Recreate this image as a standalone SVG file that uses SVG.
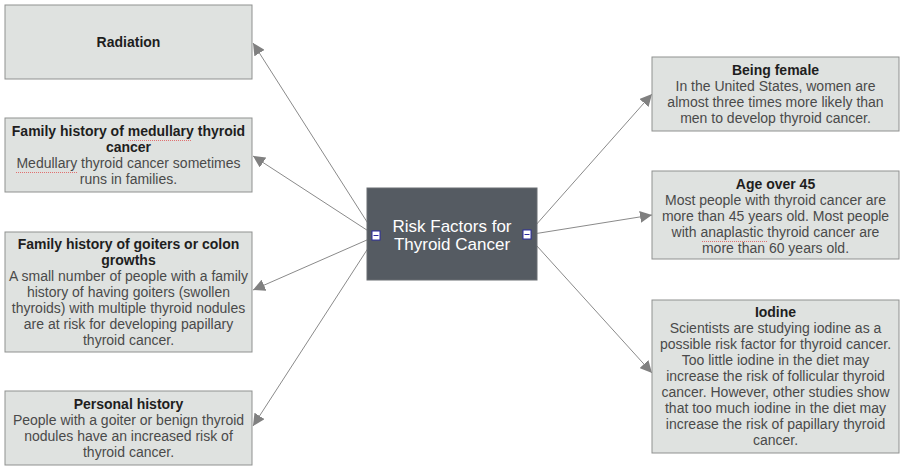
<svg xmlns="http://www.w3.org/2000/svg" width="904" height="470" viewBox="0 0 904 470">
<defs>
<marker id="ah" viewBox="0 0 10 10" refX="10" refY="5" markerWidth="12" markerHeight="12" markerUnits="userSpaceOnUse" orient="auto">
<path d="M0,0 L10,5 L0,10 Z" fill="#808080"/>
</marker>
</defs>
<style>
.box{fill:#dfe2e0;stroke:#8f9190;stroke-width:1}
.ctr{fill:#555b62;stroke:#6a6e73;stroke-width:1}
text{font-family:"Liberation Sans",Arial,sans-serif;font-size:14px;text-anchor:middle}
.t{font-weight:bold;fill:#1e1e1e}
.b{fill:#4a4a4a}
.c{fill:#ffffff;font-size:17px}
.con{stroke:#8a8a8a;stroke-width:1;fill:none;marker-end:url(#ah)}
.port{fill:#ffffff;stroke:#2a2aa0;stroke-width:1}
.sp{stroke:#e07070;stroke-width:1;stroke-dasharray:1,1;fill:none}
</style>
<g id="connectors">
<line class="con" x1="376" y1="236" x2="253" y2="43"/>
<line class="con" x1="376" y1="236" x2="253" y2="156"/>
<line class="con" x1="376" y1="236" x2="253" y2="290"/>
<line class="con" x1="376" y1="236" x2="253" y2="426"/>
<line class="con" x1="527" y1="235" x2="652" y2="94"/>
<line class="con" x1="527" y1="235" x2="652" y2="215"/>
<line class="con" x1="527" y1="235" x2="652" y2="373"/>
</g>
<g id="center">
<rect class="ctr" x="367" y="188" width="170" height="92"/>
<text class="c" x="452" y="232">Risk Factors for</text>
<text class="c" x="452" y="250">Thyroid Cancer</text>
<rect class="port" x="372" y="231" width="8" height="9"/>
<line x1="373.5" y1="235.5" x2="378.5" y2="235.5" stroke="#2a2aa0"/>
<rect class="port" x="523" y="230" width="8" height="9"/>
<line x1="524.5" y1="234.5" x2="529.5" y2="234.5" stroke="#2a2aa0"/>
</g>
<g id="radiation">
<rect class="box" x="5" y="5" width="247" height="74"/>
<text class="t" x="128.5" y="47">Radiation</text>
</g>
<g id="medullary">
<rect class="box" x="5" y="118" width="247" height="74"/>
<text class="t" x="128.5" y="136">Family history of medullary thyroid</text>
<text class="t" x="128.5" y="152">cancer</text>
<text class="b" x="128.5" y="168">Medullary thyroid cancer sometimes</text>
<text class="b" x="128.5" y="184">runs in families.</text>
<path class="sp" d="M128,140.5 L191,140.5"/>
<path class="sp" d="M16,172.5 L78,172.5"/>
</g>
<g id="goiters">
<rect class="box" x="5" y="232" width="247" height="120"/>
<text class="t" x="128.5" y="249">Family history of goiters or colon</text>
<text class="t" x="128.5" y="265">growths</text>
<text class="b" x="128.5" y="281">A small number of people with a family</text>
<text class="b" x="128.5" y="297">history of having goiters (swollen</text>
<text class="b" x="128.5" y="313">thyroids) with multiple thyroid nodules</text>
<text class="b" x="128.5" y="329">are at risk for developing papillary</text>
<text class="b" x="128.5" y="345">thyroid cancer.</text>
</g>
<g id="personal">
<rect class="box" x="5" y="391" width="247" height="74"/>
<text class="t" x="128.5" y="409">Personal history</text>
<text class="b" x="128.5" y="425">People with a goiter or benign thyroid</text>
<text class="b" x="128.5" y="441">nodules have an increased risk of</text>
<text class="b" x="128.5" y="457">thyroid cancer.</text>
</g>
<g id="female">
<rect class="box" x="652" y="57" width="247" height="74"/>
<text class="t" x="775.5" y="75">Being female</text>
<text class="b" x="775.5" y="91">In the United States, women are</text>
<text class="b" x="775.5" y="107">almost three times more likely than</text>
<text class="b" x="775.5" y="123">men to develop thyroid cancer.</text>
</g>
<g id="age">
<rect class="box" x="652" y="171" width="247" height="88"/>
<text class="t" x="775.5" y="189">Age over 45</text>
<text class="b" x="775.5" y="205">Most people with thyroid cancer are</text>
<text class="b" x="775.5" y="221">more than 45 years old. Most people</text>
<text class="b" x="775.5" y="237">with anaplastic thyroid cancer are</text>
<text class="b" x="775.5" y="253">more than 60 years old.</text>
<path class="sp" d="M702,241.5 L767,241.5"/>
</g>
<g id="iodine">
<rect class="box" x="652" y="300" width="247" height="153"/>
<text class="t" x="775.5" y="317">Iodine</text>
<text class="b" x="775.5" y="333">Scientists are studying iodine as a</text>
<text class="b" x="775.5" y="349">possible risk factor for thyroid cancer.</text>
<text class="b" x="775.5" y="365">Too little iodine in the diet may</text>
<text class="b" x="775.5" y="381">increase the risk of follicular thyroid</text>
<text class="b" x="775.5" y="397">cancer. However, other studies show</text>
<text class="b" x="775.5" y="413">that too much iodine in the diet may</text>
<text class="b" x="775.5" y="429">increase the risk of papillary thyroid</text>
<text class="b" x="775.5" y="445">cancer.</text>
</g>
</svg>
